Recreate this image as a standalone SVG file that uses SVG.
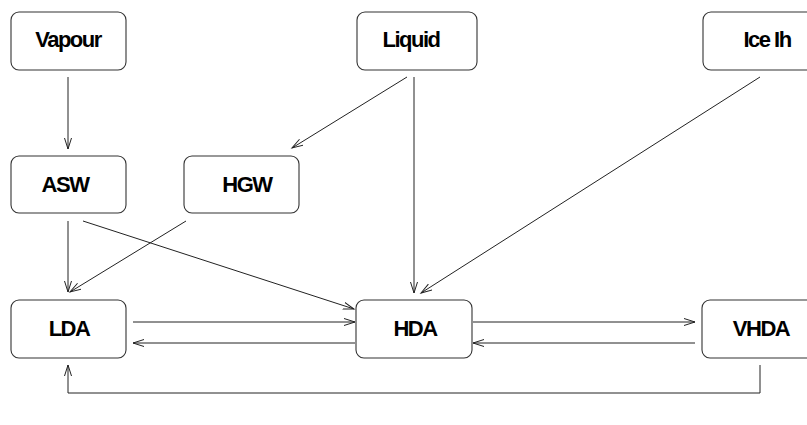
<svg xmlns="http://www.w3.org/2000/svg" width="807" height="425" viewBox="0 0 807 425">
<style>
.box{fill:#fff;stroke:#333;stroke-width:1.1}
.lbl{font-family:"Liberation Sans",Arial,sans-serif;font-weight:bold;font-size:22px;letter-spacing:-1.5px;text-anchor:middle;fill:#000}
.c{fill:none;stroke:#222;stroke-width:1}
</style>
<defs>
<marker id="ah" markerUnits="userSpaceOnUse" markerWidth="14" markerHeight="10" refX="11" refY="4" orient="auto">
<path d="M0,0.5 L11,4 L0,7.5" fill="none" stroke="#222" stroke-width="1"/>
</marker>
</defs>
<rect width="807" height="425" fill="#fff"/>
<g id="connectors">
<line class="c" x1="68" y1="77" x2="68" y2="149" marker-end="url(#ah)"/>
<line class="c" x1="407" y1="77" x2="292" y2="148" marker-end="url(#ah)"/>
<line class="c" x1="414" y1="77" x2="414" y2="293" marker-end="url(#ah)"/>
<line class="c" x1="760" y1="77" x2="421" y2="293" marker-end="url(#ah)"/>
<line class="c" x1="68" y1="221" x2="68" y2="292" marker-end="url(#ah)"/>
<line class="c" x1="186" y1="221" x2="70" y2="292" marker-end="url(#ah)"/>
<line class="c" x1="83" y1="221" x2="354" y2="309" marker-end="url(#ah)"/>
<line class="c" x1="133" y1="322" x2="355" y2="322" marker-end="url(#ah)"/>
<line class="c" x1="355" y1="343" x2="133" y2="343" marker-end="url(#ah)"/>
<line class="c" x1="473" y1="322" x2="695" y2="322" marker-end="url(#ah)"/>
<line class="c" x1="695" y1="343" x2="473" y2="343" marker-end="url(#ah)"/>
<polyline class="c" points="760,365 760,393 68,393 68,365" marker-end="url(#ah)"/>
</g>
<g id="vapour"><rect class="box" x="11" y="12" width="115" height="58" rx="8"/><text class="lbl" x="68" y="47">Vapour</text></g>
<g id="liquid"><rect class="box" x="357" y="12" width="120" height="58" rx="8"/><text class="lbl" x="411" y="47">Liquid</text></g>
<g id="iceih"><rect class="box" x="703" y="12" width="126" height="58" rx="8"/><text class="lbl" x="767" y="47">Ice Ih</text></g>
<g id="asw"><rect class="box" x="11" y="156" width="115" height="57" rx="8"/><text class="lbl" x="65" y="192">ASW</text></g>
<g id="hgw"><rect class="box" x="184" y="156" width="115" height="57" rx="8"/><text class="lbl" x="247" y="192">HGW</text></g>
<g id="lda"><rect class="box" x="11" y="300" width="115" height="58" rx="8"/><text class="lbl" x="69" y="336">LDA</text></g>
<g id="hda"><rect class="box" x="356" y="300" width="116" height="58" rx="8"/><text class="lbl" x="415" y="336">HDA</text></g>
<g id="vhda"><rect class="box" x="702" y="300" width="116" height="58" rx="8"/><text class="lbl" x="761" y="336">VHDA</text></g>
</svg>
